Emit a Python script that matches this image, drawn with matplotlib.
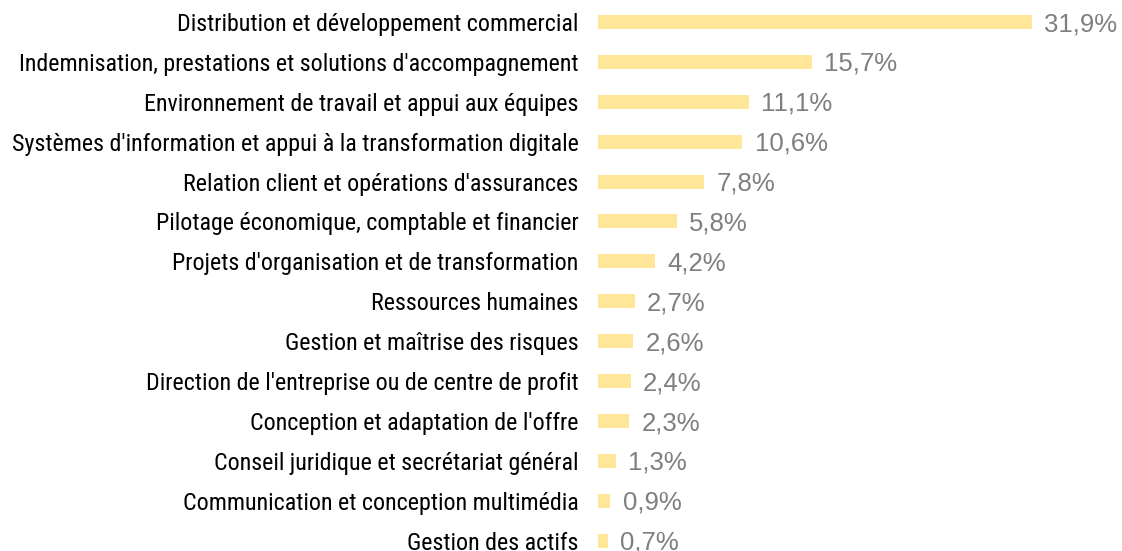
import matplotlib
matplotlib.use("Agg")
import matplotlib.pyplot as plt

# Données
categories = [
    "Distribution et développement commercial",
    "Indemnisation, prestations et solutions d'accompagnement",
    "Environnement de travail et appui aux équipes",
    "Systèmes d'information et appui à la transformation digitale",
    "Relation client et opérations d'assurances",
    "Pilotage économique, comptable et financier",
    "Projets d'organisation et de transformation",
    "Ressources humaines",
    "Gestion et maîtrise des risques",
    "Direction de l'entreprise ou de centre de profit",
    "Conception et adaptation de l'offre",
    "Conseil juridique et secrétariat général",
    "Communication et conception multimédia",
    "Gestion des actifs",
]
values = [31.9, 15.7, 11.1, 10.6, 7.8, 5.8, 4.2, 2.7, 2.6, 2.4, 2.3, 1.3, 0.9, 0.7]

fig = plt.figure(figsize=(11.22, 5.51), dpi=100)
ax = fig.add_axes([598 / 1122, -9.6 / 551, 502 / 1122, 558.6 / 551])

y = list(range(len(categories)))
ax.barh(y, values, height=0.35, color='#FFE699')

# étiquettes de valeurs
for yi, v in zip(y, values):
    ax.annotate(f"{v:.1f}%".replace('.', ','), (v, yi), xytext=(9, -1.5),
                textcoords='offset points', va='center', ha='left',
                fontsize=18.5, color='#7F7F7F', family=['Liberation Sans', 'DejaVu Sans'])

ax.set_xlim(0, 502 / 13.6)
ax.set_ylim(len(categories) - 0.5, -0.5)
ax.set_yticks(y)
ax.set_yticklabels(categories, fontsize=17.3, family=['Roboto Condensed', 'DejaVu Sans'])
ax.tick_params(axis='y', length=0, pad=14)
ax.set_xticks([])
for s in ax.spines.values():
    s.set_visible(False)

fig.savefig("out.png", dpi=100)
